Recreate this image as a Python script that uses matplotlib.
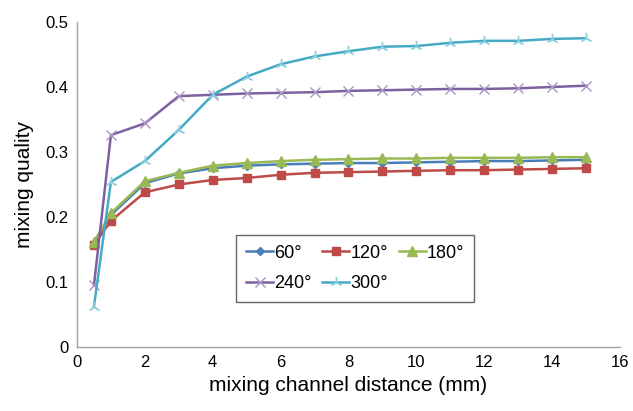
import matplotlib
matplotlib.use("Agg")
import matplotlib.pyplot as plt

plt.rcParams['font.family'] = ['Liberation Sans', 'DejaVu Sans']

distance = [0.5, 1, 2, 3, 4, 5, 6, 7, 8, 9, 10, 11, 12, 13, 14, 15]
labels = ["60°", "120°", "180°", "240°", "300°"]
q60 = [0.160, 0.203, 0.252, 0.267, 0.275, 0.279, 0.281, 0.282, 0.283, 0.283, 0.284, 0.285, 0.286, 0.286, 0.287, 0.288]
q120 = [0.157, 0.194, 0.238, 0.250, 0.257, 0.260, 0.265, 0.268, 0.269, 0.270, 0.271, 0.272, 0.272, 0.273, 0.274, 0.275]
q180 = [0.162, 0.206, 0.255, 0.268, 0.279, 0.283, 0.286, 0.288, 0.289, 0.290, 0.290, 0.291, 0.291, 0.291, 0.292, 0.292]
q240 = [0.095, 0.326, 0.344, 0.386, 0.388, 0.390, 0.391, 0.392, 0.394, 0.395, 0.396, 0.397, 0.397, 0.398, 0.400, 0.402]
q300 = [0.062, 0.254, 0.286, 0.334, 0.388, 0.416, 0.435, 0.447, 0.455, 0.462, 0.463, 0.468, 0.471, 0.471, 0.474, 0.475]

fig = plt.figure(figsize=(6.33, 4.11), dpi=100)
ax = fig.add_axes([0.1216, 0.1557, 0.8579, 0.7908])

h60, = ax.plot(distance, q60, color='#4A7EBB', lw=1.8, marker='D', ms=4, label=labels[0])
h120, = ax.plot(distance, q120, color='#BE4B48', lw=1.8, marker='s', ms=6, label=labels[1])
h180, = ax.plot(distance, q180, color='#98B954', lw=1.8, marker='^', ms=6.5, label=labels[2])
h240, = ax.plot(distance, q240, color='#7D60A0', lw=1.8, marker='x', ms=7, mec='#A996C4', mew=1.0, label=labels[3])
h300, = ax.plot(distance, q300, color='#46AAC5', lw=1.8, marker=(3, 2, 0), ms=8, mec='#8FCFE0', mew=1.0, label=labels[4])

ax.set_xlim(0, 16)
ax.set_ylim(0, 0.5)
ax.set_xticks(range(0, 17, 2))
ax.set_yticks([0, 0.1, 0.2, 0.3, 0.4, 0.5])
ax.set_yticklabels(['0', '0.1', '0.2', '0.3', '0.4', '0.5'])
ax.tick_params(length=0, labelsize=12, pad=6)
for s in ['top', 'right']:
    ax.spines[s].set_visible(False)
for s in ['left', 'bottom']:
    ax.spines[s].set_color('#A0A0A0')
    ax.spines[s].set_linewidth(1.0)

ax.set_xlabel('mixing channel distance (mm)', fontsize=15, labelpad=4)
ax.set_ylabel('mixing quality', fontsize=15, labelpad=8)

handles = [h60, h240, h120, h300, h180]
leg = ax.legend(handles=handles, labels=[h.get_label() for h in handles], ncol=3,
                loc='upper left', bbox_to_anchor=(0.293, 0.345), borderaxespad=0,
                fontsize=13, frameon=True, fancybox=False, edgecolor='#404040',
                handlelength=1.5, handletextpad=0.05, columnspacing=0.6,
                borderpad=0.55, labelspacing=0.75)
leg.get_frame().set_linewidth(1.0)

fig.savefig('out.png', dpi=100)
